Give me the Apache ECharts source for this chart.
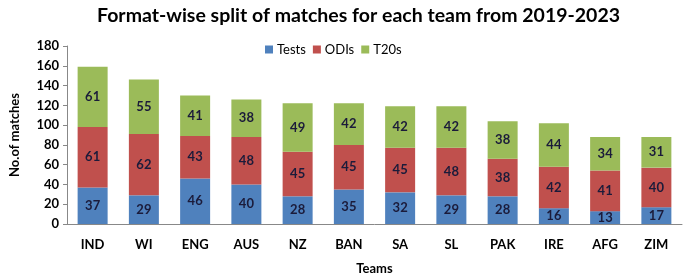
<!DOCTYPE html>
<html><head><meta charset="utf-8">
<script src="https://cdn.jsdelivr.net/npm/echarts@6/dist/echarts.min.js"></script>
<style>html,body{margin:0;padding:0;background:#fff}#c{width:685px;height:280px}</style>
</head><body><div id="c"></div>
<script>
const teams = ["IND","WI","ENG","AUS","NZ","BAN","SA","SL","PAK","IRE","AFG","ZIM"];
const tests = [37,29,46,40,28,35,32,29,28,16,13,17];
const odis  = [61,62,43,48,45,45,45,48,38,42,41,40];
const t20s  = [61,55,41,38,49,42,42,42,38,44,34,31];
const yTicks = [0,20,40,60,80,100,120,140,160,180];

const FONT = "Lato, 'Open Sans', sans-serif";
const lbl = {show:true, position:'inside', fontFamily:FONT, fontWeight:'bold', fontSize:13, color:'#1b1b3a'};
function ser(name, data, color){
  return {name, type:'bar', stack:'all', data, barWidth:30,
    itemStyle:{color}, label:lbl};
}
const chart = echarts.init(document.getElementById('c'), null, {renderer:'canvas'});
chart.setOption({
  animation:false,
  title:{text:'Format-wise split of matches for each team from 2019-2023', left:92, top:1,
    textStyle:{fontFamily:FONT, fontWeight:'bold', fontSize:19.5, color:'#000'}},
  legend:{left:260, top:38, itemWidth:8, itemHeight:8, itemGap:7, icon:'rect',
    textStyle:{fontFamily:FONT, fontSize:13, color:'#000', padding:[0,0,0,-1]}},
  grid:{left:62, right:3, top:46, bottom:52},
  xAxis:{type:'category', data:teams, name:'Teams', nameLocation:'middle', nameGap:38,
    nameTextStyle:{fontFamily:FONT, fontWeight:'bold', fontSize:13, color:'#000'},
    axisLine:{lineStyle:{color:'#888'}}, axisTick:{length:5, lineStyle:{color:'#888'}},
    axisLabel:{fontFamily:FONT, fontWeight:'bold', fontSize:13, color:'#000', margin:14}},
  yAxis:{type:'value', min:yTicks[0], max:yTicks[yTicks.length-1], interval:20,
    name:'No.of matches', nameLocation:'middle', nameGap:46, nameRotate:90,
    nameTextStyle:{fontFamily:FONT, fontWeight:'bold', fontSize:13, color:'#000'},
    axisLine:{show:true, lineStyle:{color:'#888'}}, axisTick:{show:true, length:4, lineStyle:{color:'#888'}},
    splitLine:{show:false},
    axisLabel:{fontFamily:FONT, fontWeight:'bold', fontSize:13, color:'#000', margin:8}},
  series:[ser('Tests', tests, '#4F81BD'), ser('ODIs', odis, '#C0504D'), ser('T20s', t20s, '#9BBB59')]
});
</script></body></html>
